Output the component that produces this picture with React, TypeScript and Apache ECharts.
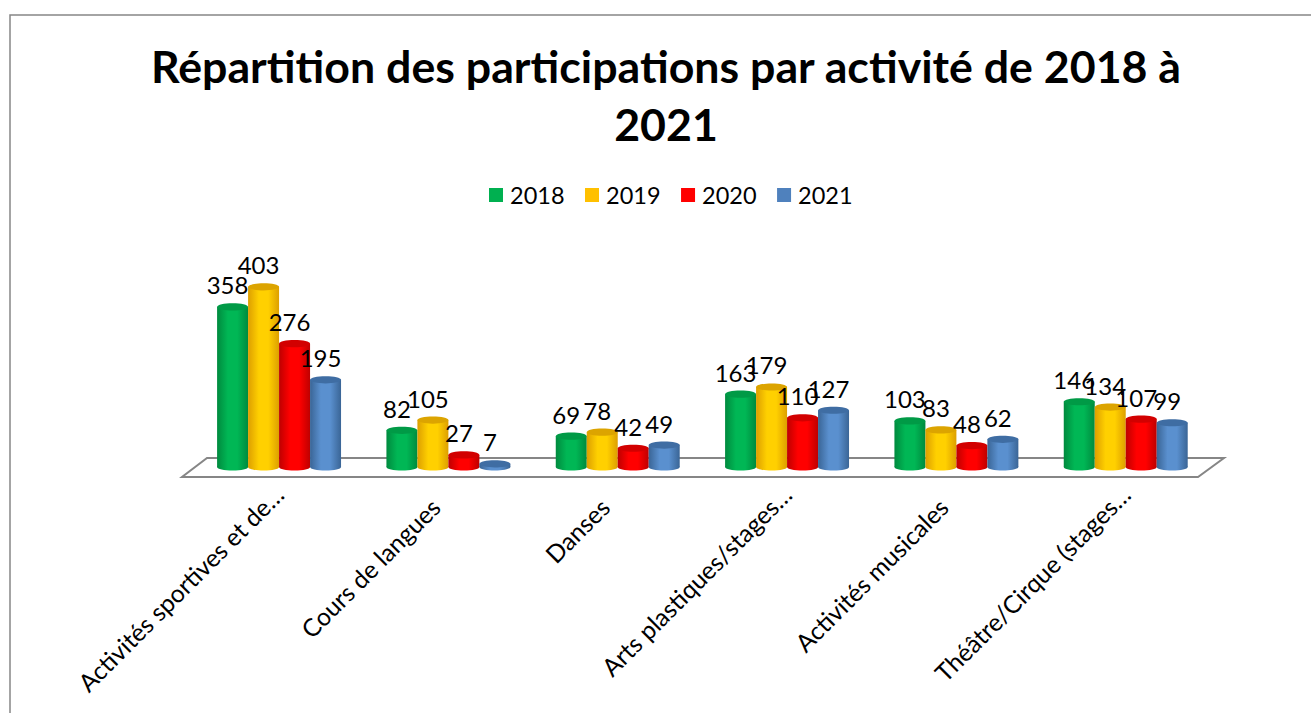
import React, { useEffect, useRef } from "react";
import * as echarts from "echarts";

const titleText = "Répartition des participations par activité de 2018 à\n2021";
const categories = [
  "Activités sportives et de…",
  "Cours de langues",
  "Danses",
  "Arts plastiques/stages…",
  "Activités musicales",
  "Théâtre/Cirque (stages…",
];
const years = ["2018", "2019", "2020", "2021"];
const values2018 = [358, 82, 69, 163, 103, 146];
const values2019 = [403, 105, 78, 179, 83, 134];
const values2020 = [276, 27, 42, 110, 48, 107];
const values2021 = [195, 7, 49, 127, 62, 99];
const yearValues = [values2018, values2019, values2020, values2021];

const baseColors = ["#00B050", "#FFC000", "#FF0000", "#4F81BD"];
const edgeColors = ["#008A3E", "#DD9F00", "#BE0000", "#3A6596"];
const midColors = ["#00B755", "#FFD000", "#FF0000", "#5A90CF"];
const capColors = ["#009A46", "#DCA400", "#D20000", "#3F6DA3"];

const FONT = "Lato, 'Noto Sans', sans-serif";

function sideFill(i: number) {
  return new echarts.graphic.LinearGradient(0, 0, 1, 0, [
    { offset: 0, color: edgeColors[i] },
    { offset: 0.35, color: midColors[i] },
    { offset: 0.65, color: midColors[i] },
    { offset: 1, color: edgeColors[i] },
  ]);
}

function makeRenderer(seriesIdx: number) {
  return (_params: any, api: any) => {
    const cat = api.value(0);
    const val = api.value(1);
    const top = api.coord([cat, val]);
    const base = api.coord([cat, 0]);
    const band = api.size([1, 0])[0];
    const w = band * 0.183;
    const cx = top[0] + (seriesIdx - 1.5) * w;
    const ry = 3.6;
    const fill = sideFill(seriesIdx);
    return {
      type: "group",
      children: [
        {
          type: "ellipse",
          shape: { cx, cy: base[1], rx: w / 2, ry },
          style: { fill },
        },
        {
          type: "rect",
          shape: { x: cx - w / 2, y: top[1], width: w, height: base[1] - top[1] },
          style: { fill },
        },
        {
          type: "ellipse",
          shape: { cx, cy: top[1], rx: w / 2, ry },
          style: { fill: capColors[seriesIdx] },
        },
        {
          type: "text",
          style: {
            text: String(val),
            x: cx - 5,
            y: top[1] - 22,
            align: "center",
            verticalAlign: "middle",
            fontSize: 24,
            fontFamily: FONT,
            fill: "#000000",
          },
        },
      ],
    };
  };
}

export default function App() {
  const ref = useRef<HTMLDivElement>(null);
  useEffect(() => {
    document.body.style.margin = "0";
    const chart = echarts.init(ref.current!, undefined, { renderer: "svg" });
    chart.setOption({
      animation: false,
      backgroundColor: "#FFFFFF",
      title: {
        text: titleText,
        left: 661,
        top: 32,
        textAlign: "center",
        textStyle: {
          fontFamily: FONT,
          fontSize: 44.7,
          fontWeight: "bold",
          color: "#000000",
          lineHeight: 58,
        },
      },
      legend: {
        data: years,
        left: 489,
        top: 183,
        padding: 0,
        itemWidth: 14,
        itemHeight: 14,
        itemGap: 20.5,
        icon: "rect",
        textStyle: { fontFamily: FONT, fontSize: 23.5, color: "#000000", padding: [0, 0, 0, 2] },
      },
      grid: { left: 194.4, width: 1016, top: 243.5, height: 223.5 },
      xAxis: {
        type: "category",
        data: categories,
        axisLine: { show: false },
        axisTick: { show: false },
        axisLabel: {
          interval: 0,
          rotate: 45,
          margin: 23,
          fontFamily: FONT,
          fontSize: 24.6,
          color: "#000000",
          formatter: (v: string) => (v.endsWith("…") ? `{cut|${v}}` : `{full|${v}}`),
          rich: {
            cut: { fontFamily: FONT, fontSize: 24.6, color: "#000000" },
            full: { fontFamily: FONT, fontSize: 24.6, color: "#000000", padding: [0, 18, 0, 0] },
          },
        },
      },
      yAxis: { type: "value", min: 0, max: 500, show: false },
      graphic: [
        {
          type: "polyline",
          silent: true,
          shape: { points: [[10, 713], [10, 15], [1311, 15]] },
          style: { stroke: "#868686", lineWidth: 1.5, fill: "none" },
        },
        {
          type: "polygon",
          silent: true,
          shape: { points: [[182, 477], [1198, 477], [1224, 458], [207, 458]] },
          style: { stroke: "#868686", lineWidth: 2, fill: "#FFFFFF" },
        },
      ],
      series: years.map((y, i) => ({
        type: "custom",
        name: y,
        renderItem: makeRenderer(i),
        encode: { x: 0, y: 1 },
        itemStyle: { color: baseColors[i] },
        data: yearValues[i].map((v, c) => [c, v]),
        z: 2 + i,
      })),
    });
    return () => chart.dispose();
  }, []);
  return (
    <div
      ref={ref}
      style={{ position: "absolute", left: 0, top: 0, width: 1311, height: 713 }}
    />
  );
}
